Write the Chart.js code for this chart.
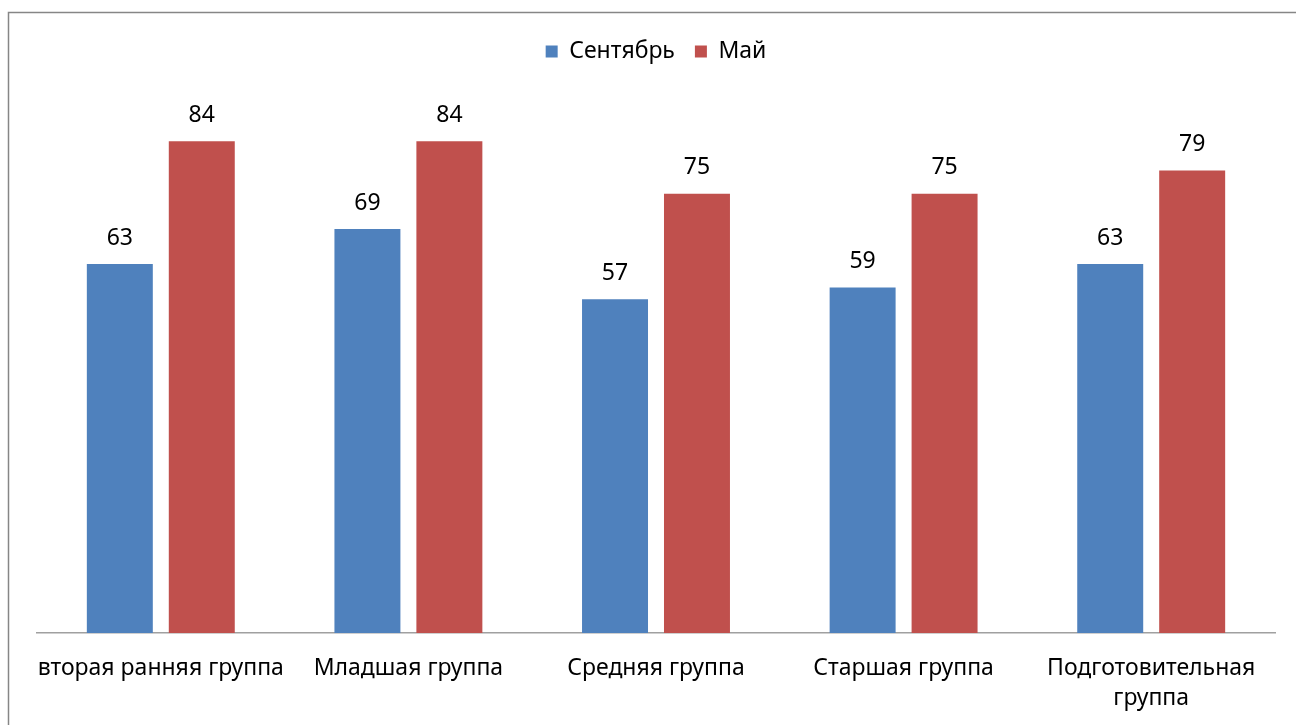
<!DOCTYPE html>
<html>
<head>
<meta charset="utf-8">
<script src="https://cdn.jsdelivr.net/npm/chart.js@4.4.0/dist/chart.umd.min.js"></script>
<style>
  html, body { margin: 0; padding: 0; background: #fff; }
  #wrap { width: 1296px; height: 725px; position: relative; }
</style>
</head>
<body>
<div id="wrap"><canvas id="c" width="1296" height="725"></canvas></div>
<script>
const categories = ['вторая ранняя группа', 'Младшая группа', 'Средняя группа', 'Старшая группа', ['Подготовительная', 'группа']];
const seriesNames = ['Сентябрь', 'Май'];
const september = [63, 69, 57, 59, 63];
const may = [84, 84, 75, 75, 79];
const yMax = 90;

const FONT = '"Noto Sans", "DejaVu Sans", sans-serif';
const FS = 23;
const TOP_PAD = 20;

const frame = {
  id: 'frame',
  beforeDraw(chart) {
    const ctx = chart.ctx;
    ctx.save();
    ctx.fillStyle = '#fff';
    ctx.fillRect(0, 0, chart.width, chart.height);
    ctx.strokeStyle = '#868686';
    ctx.lineWidth = 1.5;
    ctx.beginPath();
    ctx.moveTo(8.5, chart.height + 5);
    ctx.lineTo(8.5, 12.5);
    ctx.lineTo(chart.width + 5, 12.5);
    ctx.stroke();
    ctx.restore();
  }
};

const valueLabels = {
  id: 'valueLabels',
  afterDatasetsDraw(chart) {
    const ctx = chart.ctx;
    ctx.save();
    ctx.font = FS + 'px ' + FONT;
    ctx.fillStyle = '#000';
    ctx.textAlign = 'center';
    ctx.textBaseline = 'middle';
    chart.data.datasets.forEach((ds, i) => {
      const meta = chart.getDatasetMeta(i);
      meta.data.forEach((el, j) => {
        ctx.fillText(String(ds.data[j]), el.x, el.y - 26);
      });
    });
    ctx.restore();
  }
};

const legendPad = {
  id: 'legendPad',
  beforeInit(chart) {
    const orig = chart.legend.fit;
    chart.legend.fit = function () {
      orig.call(this);
      this.height = 106 - TOP_PAD;
    };
  }
};

new Chart(document.getElementById('c'), {
  type: 'bar',
  data: {
    labels: categories,
    datasets: [
      { label: seriesNames[0], data: september, backgroundColor: '#4F81BD', borderWidth: 0 },
      { label: seriesNames[1], data: may, backgroundColor: '#C0504D', borderWidth: 0 }
    ]
  },
  options: {
    responsive: false,
    animation: false,
    events: [],
    layout: { padding: { top: TOP_PAD, left: 37, right: 21, bottom: 0 } },
    datasets: { bar: { categoryPercentage: 0.662, barPercentage: 0.805 } },
    plugins: {
      legend: {
        position: 'top',
        labels: {
          font: { family: FONT, size: FS },
          color: '#000',
          boxWidth: 12,
          boxHeight: 12,
          padding: 20
        }
      },
      tooltip: { enabled: false },
      title: { display: false }
    },
    scales: {
      x: {
        grid: { display: false, drawTicks: false },
        border: { display: true, color: '#A0A0A0', width: 1.5 },
        ticks: {
          font: { family: FONT, size: FS, lineHeight: 1.3 },
          color: '#000',
          padding: 21,
          maxRotation: 0,
          minRotation: 0,
          autoSkip: false
        },
        afterFit(scale) { scale.height = 725 - 633; }
      },
      y: {
        display: false,
        min: 0,
        max: yMax
      }
    }
  },
  plugins: [frame, valueLabels, legendPad]
});
</script>
</body>
</html>
